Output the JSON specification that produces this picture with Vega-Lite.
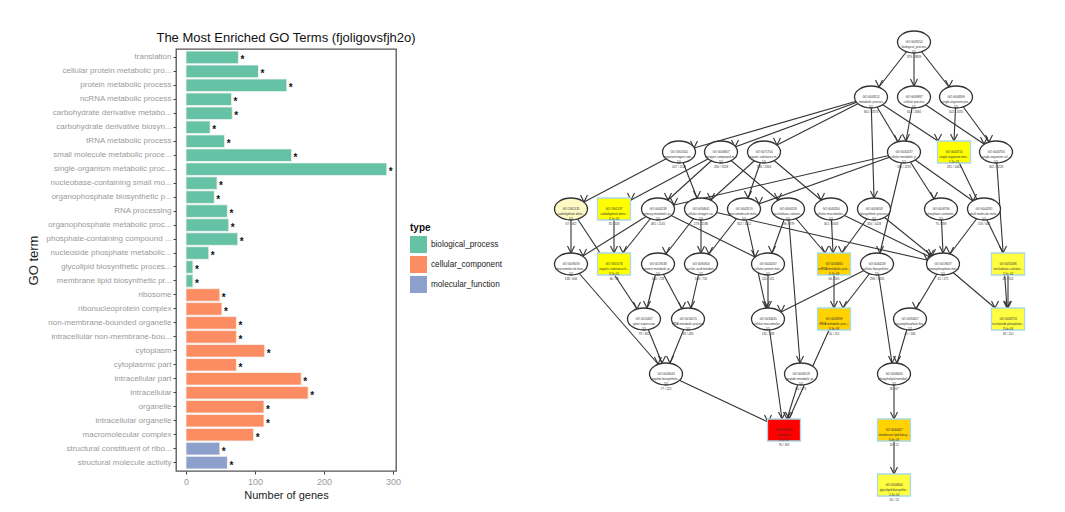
{
  "$schema": "https://vega.github.io/schema/vega-lite/v6.json",
  "padding": {"left": 26, "top": 28, "right": 0, "bottom": 0},
  "background": "white",
  "config": {
    "font": "Liberation Sans, Arial",
    "view": {"stroke": "#555555", "strokeWidth": 1.3}
  },
  "spacing": 20,
  "datasets": {
    "bars": [
      {"term": "translation", "genes": 76, "type": "biological_process"},
      {"term": "cellular protein metabolic pro...", "genes": 105, "type": "biological_process"},
      {"term": "protein metabolic process", "genes": 146, "type": "biological_process"},
      {"term": "ncRNA metabolic process", "genes": 66, "type": "biological_process"},
      {"term": "carbohydrate derivative metabo...", "genes": 67, "type": "biological_process"},
      {"term": "carbohydrate derivative biosyn...", "genes": 35, "type": "biological_process"},
      {"term": "tRNA metabolic process", "genes": 56, "type": "biological_process"},
      {"term": "small molecule metabolic proce...", "genes": 153, "type": "biological_process"},
      {"term": "single-organism metabolic proc...", "genes": 291, "type": "biological_process"},
      {"term": "nucleobase-containing small mo...", "genes": 45, "type": "biological_process"},
      {"term": "organophosphate biosynthetic p...", "genes": 41, "type": "biological_process"},
      {"term": "RNA processing", "genes": 60, "type": "biological_process"},
      {"term": "organophosphate metabolic proc...", "genes": 62, "type": "biological_process"},
      {"term": "phosphate-containing compound ...", "genes": 75, "type": "biological_process"},
      {"term": "nucleoside phosphate metabolic...", "genes": 33, "type": "biological_process"},
      {"term": "glycolipid biosynthetic proces...", "genes": 10, "type": "biological_process"},
      {"term": "membrane lipid biosynthetic pr...", "genes": 10, "type": "biological_process"},
      {"term": "ribosome", "genes": 49, "type": "cellular_component"},
      {"term": "ribonucleoprotein complex", "genes": 52, "type": "cellular_component"},
      {"term": "non-membrane-bounded organelle", "genes": 73, "type": "cellular_component"},
      {"term": "intracellular non-membrane-bou...", "genes": 73, "type": "cellular_component"},
      {"term": "cytoplasm", "genes": 114, "type": "cellular_component"},
      {"term": "cytoplasmic part", "genes": 73, "type": "cellular_component"},
      {"term": "intracellular part", "genes": 167, "type": "cellular_component"},
      {"term": "intracellular", "genes": 177, "type": "cellular_component"},
      {"term": "organelle", "genes": 113, "type": "cellular_component"},
      {"term": "intracellular organelle", "genes": 113, "type": "cellular_component"},
      {"term": "macromolecular complex", "genes": 98, "type": "cellular_component"},
      {"term": "structural constituent of ribo...", "genes": 49, "type": "molecular_function"},
      {"term": "structural molecule activity", "genes": 60, "type": "molecular_function"}
    ],
    "nodes": [
      {"id": "n0", "x": 913, "y": 40, "kind": "ellipse", "sig": "none", "label": "GO:0008150\nbiological_process\n5/5\n879 / 3889"},
      {"id": "n1", "x": 870, "y": 95, "kind": "ellipse", "sig": "none", "label": "GO:0008152\nmetabolic process\n5/5\n661 / 2874"},
      {"id": "n2", "x": 913, "y": 95, "kind": "ellipse", "sig": "none", "label": "GO:0009987\ncellular process\n5/5\n614 / 2680"},
      {"id": "n3", "x": 955, "y": 95, "kind": "ellipse", "sig": "none", "label": "GO:0044699\nsingle-organism pro...\n5/5\n502 / 2035"},
      {"id": "n4", "x": 678, "y": 150, "kind": "ellipse", "sig": "none", "label": "GO:1901564\norganonitrogen com...\n5/5\n207 / 1108"},
      {"id": "n5", "x": 720, "y": 150, "kind": "ellipse", "sig": "none", "label": "GO:0006807\nnitrogen compound m...\n5/5\n290 / 1328"},
      {"id": "n6", "x": 763, "y": 150, "kind": "ellipse", "sig": "none", "label": "GO:0071704\norganic substance m...\n5/5\n538 / 2363"},
      {"id": "n7", "x": 903, "y": 150, "kind": "ellipse", "sig": "none", "label": "GO:0044237\ncellular metabolic p...\n5/5\n531 / 2291"},
      {"id": "n8", "x": 953, "y": 150, "kind": "box", "sig": "mid", "label": "GO:0044710\nsingle-organism met...\n1.2e-05\n291 / 1063"},
      {"id": "n9", "x": 995, "y": 150, "kind": "ellipse", "sig": "none", "label": "GO:0044763\nsingle-organism cel...\n5/5\n302 / 1228"},
      {"id": "n10", "x": 570, "y": 207, "kind": "ellipse", "sig": "pale", "label": "GO:1901135\ncarbohydrate deriv...\n5/5\n67 / 262"},
      {"id": "n11", "x": 613, "y": 207, "kind": "box", "sig": "mid", "label": "GO:1901137\ncarbohydrate deriv...\n4.1e-05\n35 / 108"},
      {"id": "n12", "x": 657, "y": 207, "kind": "ellipse", "sig": "none", "label": "GO:0044238\nprimary metabolic pr...\n5/5\n481 / 2145"},
      {"id": "n13", "x": 700, "y": 207, "kind": "ellipse", "sig": "none", "label": "GO:0034641\ncellular nitrogen co...\n5/5\n273 / 1188"},
      {"id": "n14", "x": 743, "y": 207, "kind": "ellipse", "sig": "none", "label": "GO:0043170\nmacromolecule meta...\n5/5\n352 / 1612"},
      {"id": "n15", "x": 787, "y": 207, "kind": "ellipse", "sig": "none", "label": "GO:0006139\nnucleobase-containi...\n5/5\n196 / 879"},
      {"id": "n16", "x": 830, "y": 207, "kind": "ellipse", "sig": "none", "label": "GO:0044260\ncellular macromolec...\n5/5\n301 / 1343"},
      {"id": "n17", "x": 873, "y": 207, "kind": "ellipse", "sig": "none", "label": "GO:0009058\nbiosynthetic process\n5/5\n316 / 1428"},
      {"id": "n18", "x": 940, "y": 207, "kind": "ellipse", "sig": "none", "label": "GO:0006796\nphosphate-containin...\n5/5\n75 / 298"},
      {"id": "n19", "x": 983, "y": 207, "kind": "ellipse", "sig": "none", "label": "GO:0044281\nsmall molecule meta...\n5/5\n153 / 642"},
      {"id": "n20", "x": 570, "y": 262, "kind": "ellipse", "sig": "none", "label": "GO:0009059\nmacromolecule bios...\n5/5\n138 / 606"},
      {"id": "n21", "x": 613, "y": 262, "kind": "box", "sig": "mid", "label": "GO:1901576\norganic substance b...\n3.2e-05\n36 / 98"},
      {"id": "n22", "x": 657, "y": 262, "kind": "ellipse", "sig": "none", "label": "GO:0019538\nprotein metabolic pr...\n5/5\n146 / 728"},
      {"id": "n23", "x": 700, "y": 262, "kind": "ellipse", "sig": "none", "label": "GO:0090304\nnucleic acid metabol...\n5/5\n164 / 731"},
      {"id": "n24", "x": 767, "y": 262, "kind": "ellipse", "sig": "none", "label": "GO:0044267\ncellular protein met...\n5/5\n105 / 521"},
      {"id": "n25", "x": 833, "y": 262, "kind": "box", "sig": "high", "label": "GO:0034660\nncRNA metabolic proc...\n6.7e-08\n66 / 205"},
      {"id": "n26", "x": 876, "y": 262, "kind": "ellipse", "sig": "none", "label": "GO:0044249\ncellular biosynthetic...\n5/5\n296 / 1330"},
      {"id": "n27", "x": 942, "y": 262, "kind": "ellipse", "sig": "none", "label": "GO:0019637\norganophosphate met...\n5/5\n62 / 271"},
      {"id": "n28", "x": 1007, "y": 262, "kind": "box", "sig": "low", "label": "GO:0055086\nnucleobase-containi...\n2.5e-04\n45 / 152"},
      {"id": "n29", "x": 643, "y": 317, "kind": "ellipse", "sig": "none", "label": "GO:0010467\ngene expression\n5/5\n79 / 342"},
      {"id": "n30", "x": 687, "y": 317, "kind": "ellipse", "sig": "none", "label": "GO:0016070\nRNA metabolic process\n5/5\n98 / 430"},
      {"id": "n31", "x": 767, "y": 317, "kind": "ellipse", "sig": "none", "label": "GO:0034645\ncellular macromolec...\n5/5\n131 / 583"},
      {"id": "n32", "x": 833, "y": 317, "kind": "box", "sig": "high", "label": "GO:0006399\ntRNA metabolic proc...\n9.3e-08\n56 / 151"},
      {"id": "n33", "x": 909, "y": 317, "kind": "ellipse", "sig": "none", "label": "GO:0090407\norganophosphate bio...\n5/5\n41 / 166"},
      {"id": "n34", "x": 1007, "y": 317, "kind": "box", "sig": "low", "label": "GO:0006753\nnucleoside phosphate...\n3.0e-04\n33 / 110"},
      {"id": "n35", "x": 665, "y": 372, "kind": "ellipse", "sig": "none", "label": "GO:0043043\npeptide biosynthetic...\n5/5\n77 / 225"},
      {"id": "n36", "x": 800, "y": 372, "kind": "ellipse", "sig": "none", "label": "GO:0006518\npeptide metabolic pr...\n5/5\n80 / 271"},
      {"id": "n37", "x": 893, "y": 372, "kind": "ellipse", "sig": "none", "label": "GO:0006644\nphospholipid metabol...\n5/5\n18 / 67"},
      {"id": "n38", "x": 783, "y": 428, "kind": "box", "sig": "top", "label": "GO:0006412\ntranslation\n2.1e-15\n76 / 192"},
      {"id": "n39", "x": 893, "y": 428, "kind": "box", "sig": "high", "label": "GO:0046467\nmembrane lipid biosy...\n8.4e-08\n10 / 12"},
      {"id": "n40", "x": 893, "y": 483, "kind": "box", "sig": "low", "label": "GO:0006664\nglycolipid biosynthe...\n2.2e-04\n10 / 13"}
    ],
    "edges": [
      {"from": "n0", "to": "n1", "sx": 913, "sy": 40, "tx": 878, "ty": 85},
      {"from": "n0", "to": "n2", "sx": 913, "sy": 40, "tx": 913, "ty": 84},
      {"from": "n0", "to": "n3", "sx": 913, "sy": 40, "tx": 948, "ty": 85},
      {"from": "n1", "to": "n4", "sx": 870, "sy": 95, "tx": 693, "ty": 146},
      {"from": "n1", "to": "n5", "sx": 870, "sy": 95, "tx": 734, "ty": 145},
      {"from": "n1", "to": "n6", "sx": 870, "sy": 95, "tx": 776, "ty": 143},
      {"from": "n1", "to": "n7", "sx": 870, "sy": 95, "tx": 897, "ty": 140},
      {"from": "n1", "to": "n8", "sx": 870, "sy": 95, "tx": 937, "ty": 139},
      {"from": "n1", "to": "n17", "sx": 870, "sy": 95, "tx": 873, "ty": 196},
      {"from": "n2", "to": "n7", "sx": 913, "sy": 95, "tx": 905, "ty": 139},
      {"from": "n2", "to": "n9", "sx": 913, "sy": 95, "tx": 983, "ty": 142},
      {"from": "n3", "to": "n8", "sx": 955, "sy": 95, "tx": 953, "ty": 139},
      {"from": "n3", "to": "n9", "sx": 955, "sy": 95, "tx": 988, "ty": 140},
      {"from": "n4", "to": "n10", "sx": 678, "sy": 150, "tx": 583, "ty": 200},
      {"from": "n4", "to": "n13", "sx": 678, "sy": 150, "tx": 696, "ty": 196},
      {"from": "n5", "to": "n11", "sx": 720, "sy": 150, "tx": 630, "ty": 198},
      {"from": "n5", "to": "n12", "sx": 720, "sy": 150, "tx": 667, "ty": 198},
      {"from": "n5", "to": "n15", "sx": 720, "sy": 150, "tx": 777, "ty": 198},
      {"from": "n6", "to": "n14", "sx": 763, "sy": 150, "tx": 747, "ty": 196},
      {"from": "n6", "to": "n13", "sx": 763, "sy": 150, "tx": 710, "ty": 198},
      {"from": "n6", "to": "n16", "sx": 763, "sy": 150, "tx": 820, "ty": 198},
      {"from": "n7", "to": "n12", "sx": 903, "sy": 150, "tx": 673, "ty": 203},
      {"from": "n7", "to": "n14", "sx": 903, "sy": 150, "tx": 758, "ty": 202},
      {"from": "n7", "to": "n18", "sx": 903, "sy": 150, "tx": 933, "ty": 197},
      {"from": "n7", "to": "n19", "sx": 903, "sy": 150, "tx": 972, "ty": 199},
      {"from": "n7", "to": "n26", "sx": 903, "sy": 150, "tx": 879, "ty": 251},
      {"from": "n8", "to": "n28", "sx": 953, "sy": 150, "tx": 1002, "ty": 251},
      {"from": "n9", "to": "n34", "sx": 995, "sy": 150, "tx": 1006, "ty": 306},
      {"from": "n10", "to": "n20", "sx": 570, "sy": 207, "tx": 570, "ty": 251},
      {"from": "n10", "to": "n29", "sx": 570, "sy": 207, "tx": 636, "ty": 307},
      {"from": "n11", "to": "n21", "sx": 613, "sy": 207, "tx": 613, "ty": 251},
      {"from": "n12", "to": "n20", "sx": 657, "sy": 207, "tx": 582, "ty": 254},
      {"from": "n12", "to": "n21", "sx": 657, "sy": 207, "tx": 622, "ty": 251},
      {"from": "n12", "to": "n24", "sx": 657, "sy": 207, "tx": 754, "ty": 255},
      {"from": "n13", "to": "n22", "sx": 700, "sy": 207, "tx": 665, "ty": 252},
      {"from": "n13", "to": "n23", "sx": 700, "sy": 207, "tx": 700, "ty": 251},
      {"from": "n13", "to": "n27", "sx": 700, "sy": 207, "tx": 926, "ty": 258},
      {"from": "n14", "to": "n23", "sx": 743, "sy": 207, "tx": 708, "ty": 252},
      {"from": "n14", "to": "n31", "sx": 743, "sy": 207, "tx": 765, "ty": 306},
      {"from": "n15", "to": "n24", "sx": 787, "sy": 207, "tx": 771, "ty": 251},
      {"from": "n15", "to": "n36", "sx": 787, "sy": 207, "tx": 799, "ty": 361},
      {"from": "n15", "to": "n25", "sx": 787, "sy": 207, "tx": 824, "ty": 251},
      {"from": "n16", "to": "n25", "sx": 830, "sy": 207, "tx": 832, "ty": 251},
      {"from": "n16", "to": "n27", "sx": 830, "sy": 207, "tx": 929, "ty": 255},
      {"from": "n17", "to": "n25", "sx": 873, "sy": 207, "tx": 841, "ty": 251},
      {"from": "n17", "to": "n27", "sx": 873, "sy": 207, "tx": 931, "ty": 254},
      {"from": "n18", "to": "n27", "sx": 940, "sy": 207, "tx": 942, "ty": 251},
      {"from": "n19", "to": "n27", "sx": 983, "sy": 207, "tx": 949, "ty": 252},
      {"from": "n20", "to": "n35", "sx": 570, "sy": 262, "tx": 657, "ty": 362},
      {"from": "n22", "to": "n29", "sx": 657, "sy": 262, "tx": 646, "ty": 306},
      {"from": "n22", "to": "n30", "sx": 657, "sy": 262, "tx": 681, "ty": 307},
      {"from": "n23", "to": "n30", "sx": 700, "sy": 262, "tx": 690, "ty": 306},
      {"from": "n24", "to": "n31", "sx": 767, "sy": 262, "tx": 767, "ty": 306},
      {"from": "n25", "to": "n32", "sx": 833, "sy": 262, "tx": 833, "ty": 306},
      {"from": "n26", "to": "n32", "sx": 876, "sy": 262, "tx": 842, "ty": 306},
      {"from": "n26", "to": "n31", "sx": 876, "sy": 262, "tx": 780, "ty": 310},
      {"from": "n26", "to": "n37", "sx": 876, "sy": 262, "tx": 891, "ty": 361},
      {"from": "n27", "to": "n33", "sx": 942, "sy": 262, "tx": 915, "ty": 307},
      {"from": "n27", "to": "n34", "sx": 942, "sy": 262, "tx": 994, "ty": 306},
      {"from": "n28", "to": "n34", "sx": 1007, "sy": 262, "tx": 1007, "ty": 306},
      {"from": "n29", "to": "n35", "sx": 643, "sy": 317, "tx": 661, "ty": 361},
      {"from": "n30", "to": "n35", "sx": 687, "sy": 317, "tx": 669, "ty": 361},
      {"from": "n31", "to": "n38", "sx": 767, "sy": 317, "tx": 781, "ty": 417},
      {"from": "n32", "to": "n38", "sx": 833, "sy": 317, "tx": 788, "ty": 417},
      {"from": "n33", "to": "n37", "sx": 909, "sy": 317, "tx": 896, "ty": 361},
      {"from": "n35", "to": "n38", "sx": 665, "sy": 372, "tx": 767, "ty": 420},
      {"from": "n36", "to": "n38", "sx": 800, "sy": 372, "tx": 786, "ty": 417},
      {"from": "n37", "to": "n39", "sx": 893, "sy": 372, "tx": 893, "ty": 417},
      {"from": "n39", "to": "n40", "sx": 893, "sy": 428, "tx": 893, "ty": 472}
    ]
  },
  "resolve": {"scale": {"color": "independent", "x": "independent", "y": "independent"}, "legend": {"color": "independent"}},
  "hconcat": [
    {
      "width": 220,
      "height": 422,
      "title": {"text": "The Most Enriched GO Terms (fjoligovsfjh2o)", "fontSize": 13, "fontWeight": "normal", "color": "#111111", "anchor": "middle", "offset": 4, "font": "Liberation Sans, Arial"},
      "data": {"name": "bars"},
      "layer": [
        {
          "mark": {"type": "bar", "stroke": "#f4f4f4", "strokeWidth": 0.8},
          "encoding": {
            "y": {"field": "term", "type": "nominal", "sort": null,
              "scale": {"paddingInner": 0.1, "paddingOuter": 0.15},
              "axis": {"title": "GO term", "domain": false, "tickColor": "#444444", "tickSize": 3, "labelColor": "#9a9a9a", "labelFontSize": 8, "labelLimit": 0, "labelPadding": 2, "titleFontSize": 13, "titleFontWeight": "normal", "titleColor": "#222222", "titlePadding": 6}},
            "x": {"field": "genes", "type": "quantitative",
              "scale": {"domain": [-14.5, 304.3], "nice": false, "zero": false},
              "axis": {"title": "Number of genes", "values": [0, 50, 100, 150, 200, 250, 300], "domain": false, "grid": false, "tickColor": "#444444", "tickSize": 3, "labelColor": "#9a9a9a", "labelFontSize": 9, "labelPadding": 3, "titleFontSize": 11, "titleFontWeight": "normal", "titleColor": "#222222", "titlePadding": 3}},
            "color": {"field": "type", "type": "nominal",
              "scale": {"domain": ["biological_process", "cellular_component", "molecular_function"], "range": ["#66C2A5", "#FC8D62", "#8DA0CB"]},
              "legend": {"title": "type", "orient": "none", "legendX": 234, "legendY": 174, "symbolType": "square", "symbolSize": 289, "symbolStrokeWidth": 0, "symbolOpacity": 1, "rowPadding": 3, "labelFontSize": 8.2, "labelColor": "#222222", "labelOffset": 4, "titleFontSize": 10, "titleFontWeight": "bold", "titleColor": "#111111", "titlePadding": 3}}
          }
        },
        {
          "mark": {"type": "text", "text": "*", "align": "left", "dx": 2, "dy": 3, "fontSize": 10, "fontWeight": "bold", "color": "#111111"},
          "encoding": {
            "y": {"field": "term", "type": "nominal", "sort": null},
            "x": {"field": "genes", "type": "quantitative"}
          }
        }
      ]
    },
    {
      "width": 540,
      "height": 422,
      "view": {"stroke": null},
      "layer": [
        {
          "data": {"name": "edges"},
          "mark": {"type": "rule", "color": "#333333", "strokeWidth": 1.1},
          "encoding": {
            "x": {"field": "sx", "type": "quantitative", "scale": {"domain": [523, 1063], "nice": false, "zero": false}, "axis": null},
            "y": {"field": "sy", "type": "quantitative", "scale": {"domain": [47, 469], "nice": false, "zero": false, "reverse": true}, "axis": null},
            "x2": {"field": "tx"},
            "y2": {"field": "ty"}
          }
        },
        {
          "data": {"name": "edges"},
          "mark": {"type": "point", "shape": "M -1 -2 L 0 0 L 1 -2", "size": 49, "filled": false, "color": "#333333", "strokeWidth": 1.1, "opacity": 1},
          "encoding": {
            "x": {"field": "tx", "type": "quantitative", "scale": {"domain": [523, 1063], "nice": false, "zero": false}, "axis": null},
            "y": {"field": "ty", "type": "quantitative", "scale": {"domain": [47, 469], "nice": false, "zero": false, "reverse": true}, "axis": null}
          }
        },
        {
          "data": {"name": "nodes"},
          "mark": {"type": "point", "filled": true, "size": 1089, "strokeWidth": 1.3, "opacity": 1},
          "encoding": {
            "x": {"field": "x", "type": "quantitative", "scale": {"domain": [523, 1063], "nice": false, "zero": false}, "axis": null},
            "y": {"field": "y", "type": "quantitative", "scale": {"domain": [47, 469], "nice": false, "zero": false, "reverse": true}, "axis": null},
            "shape": {"field": "kind", "type": "nominal", "scale": {"domain": ["ellipse", "box"], "range": ["M -1 0 A 1 0.667 0 1 1 1 0 A 1 0.667 0 1 1 -1 0 Z", "M -1 -0.667 L 1 -0.667 L 1 0.667 L -1 0.667 Z"]}, "legend": null},
            "fill": {"field": "sig", "type": "nominal", "scale": {"domain": ["none", "pale", "low", "mid", "high", "top"], "range": ["#ffffff", "#fdf8c4", "#ffff40", "#ffff00", "#ffd200", "#ff0000"]}, "legend": null},
            "stroke": {"field": "kind", "type": "nominal", "scale": {"domain": ["ellipse", "box"], "range": ["#333333", "#a9d9e4"]}, "legend": null}
          }
        },
        {
          "data": {"name": "nodes"},
          "mark": {"type": "text", "fontSize": 3, "lineBreak": "\n", "color": "#333333", "baseline": "middle", "align": "center", "font": "Liberation Sans"},
          "encoding": {
            "x": {"field": "x", "type": "quantitative", "scale": {"domain": [523, 1063], "nice": false, "zero": false}, "axis": null},
            "y": {"field": "y", "type": "quantitative", "scale": {"domain": [47, 469], "nice": false, "zero": false, "reverse": true}, "axis": null},
            "text": {"field": "label"}
          }
        }
      ]
    }
  ]
}
